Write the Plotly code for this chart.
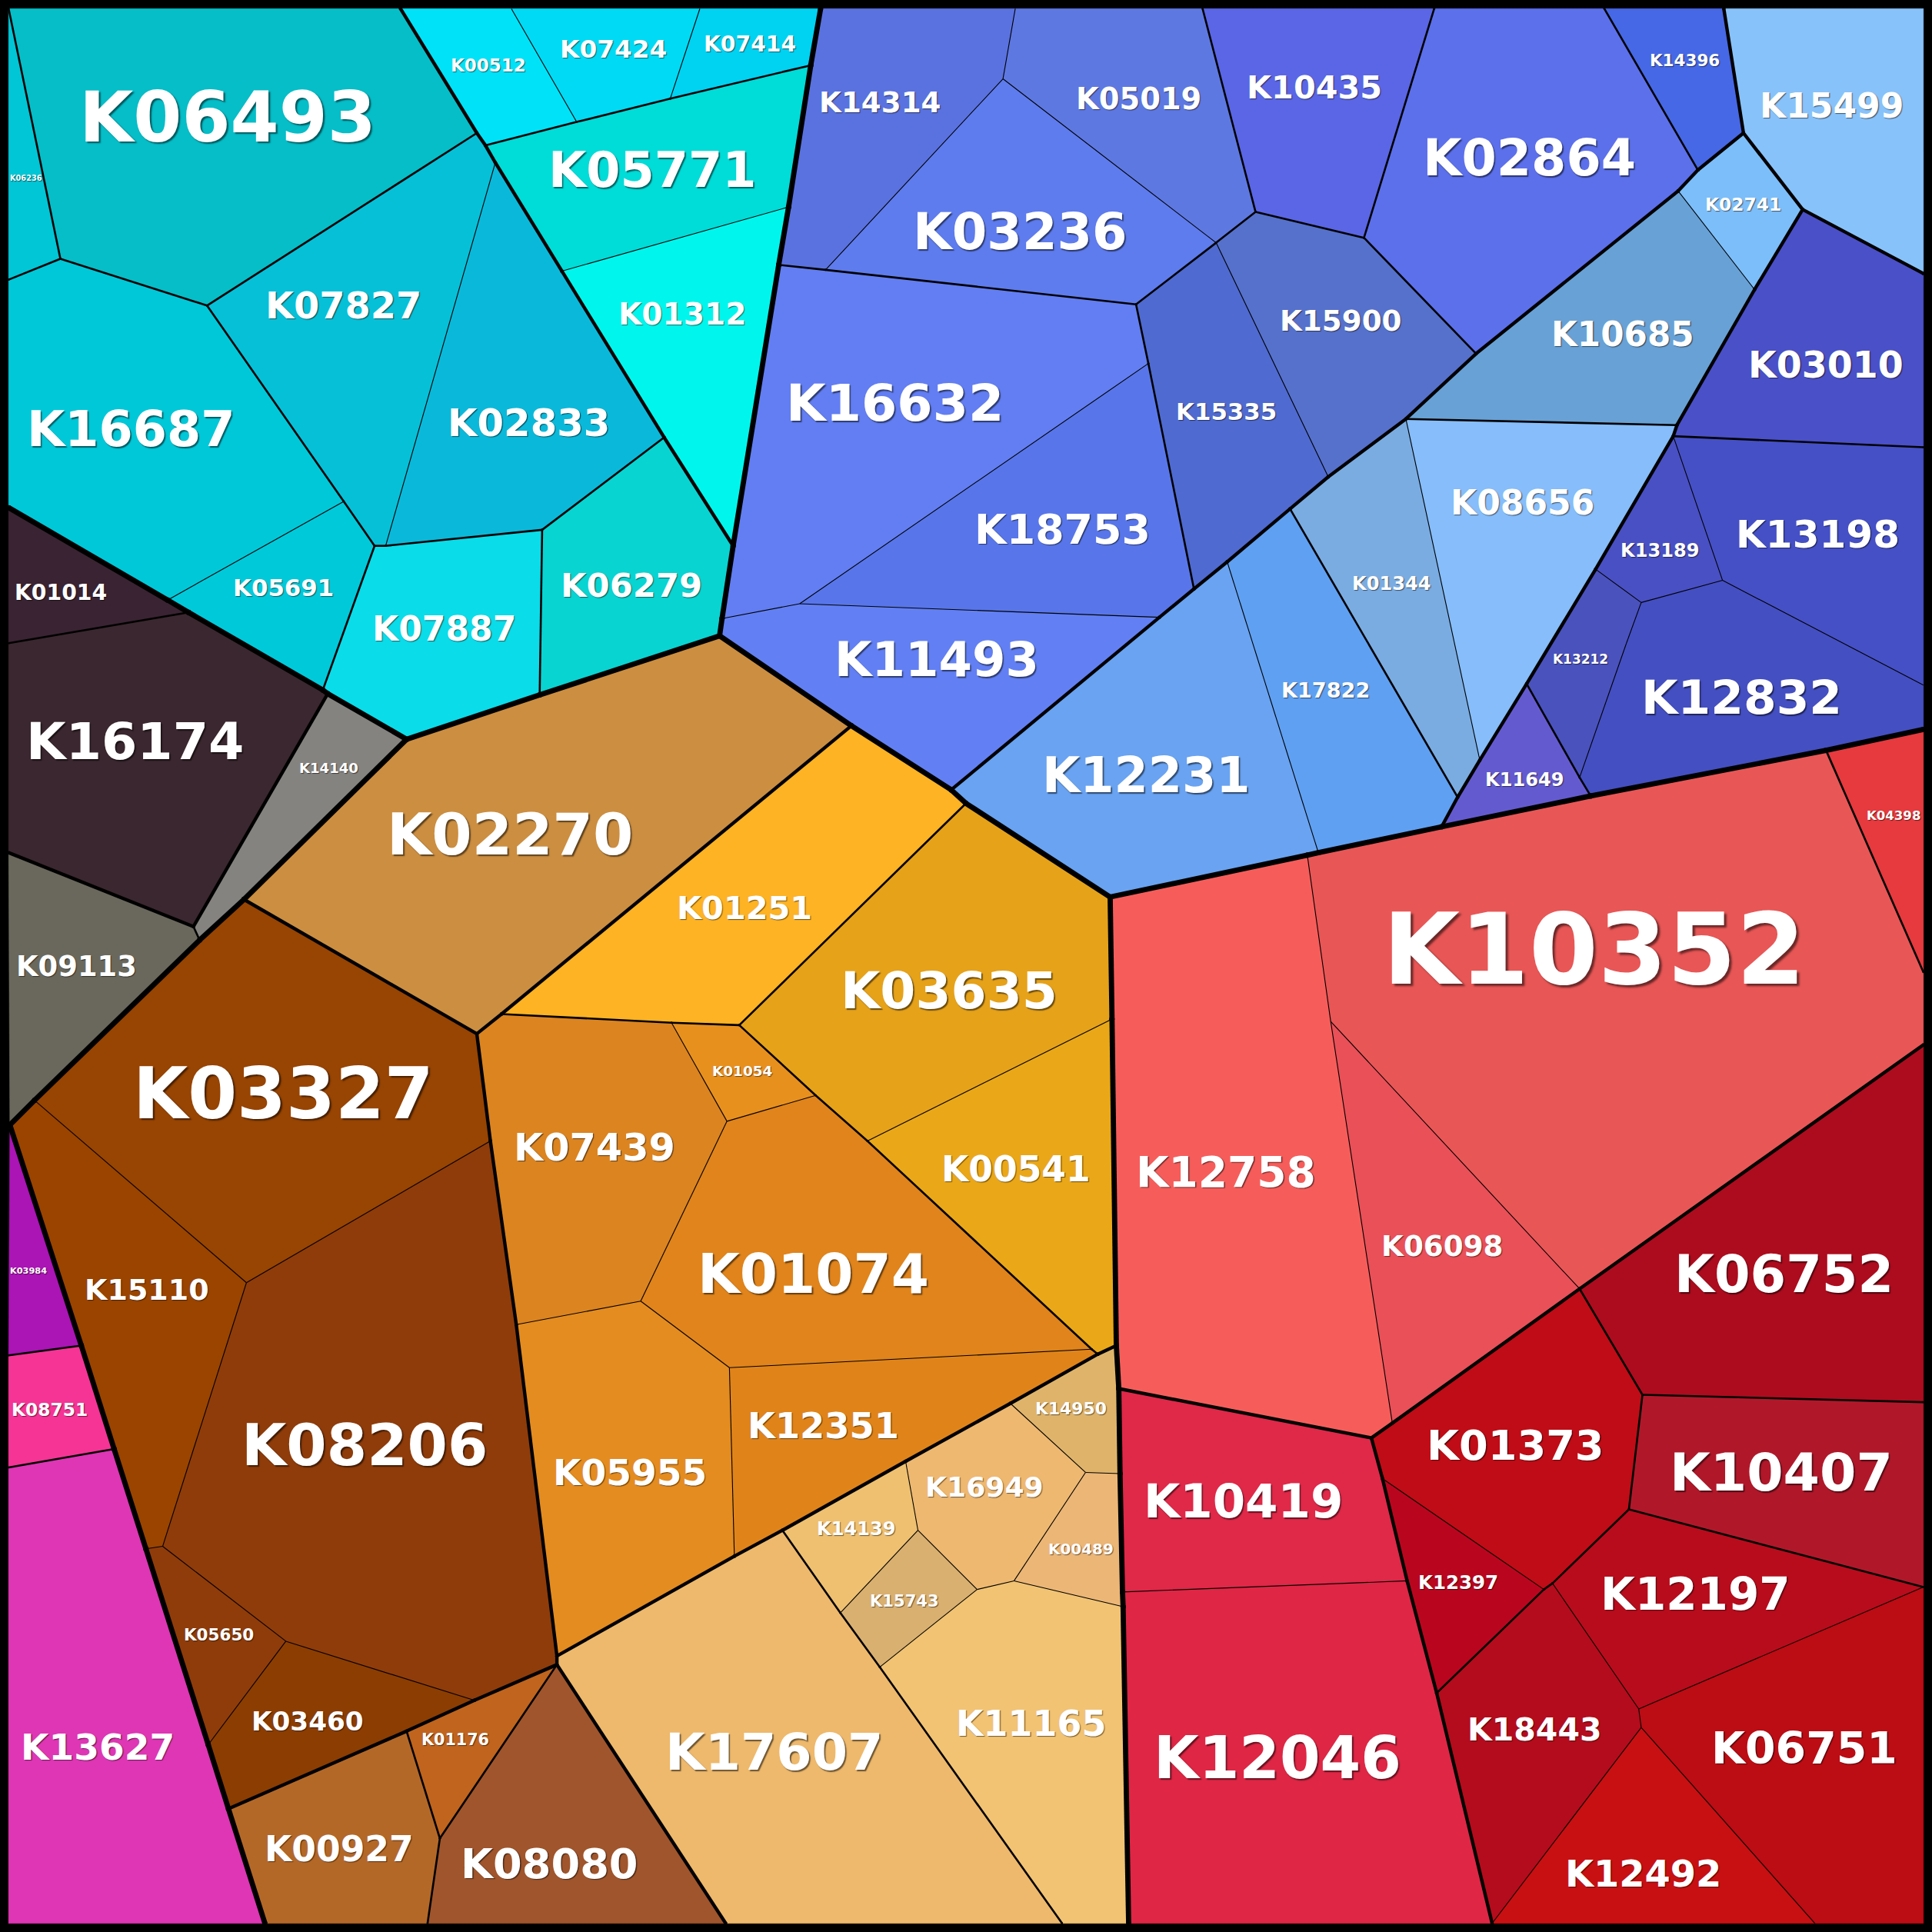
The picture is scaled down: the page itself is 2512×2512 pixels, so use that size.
import math
import plotly.graph_objects as go

# ---------------- data ----------------
ko_ids = [
    # cyan
    "K06236", "K06493", "K16687", "K07827", "K02833", "K05691", "K07887", "K06279",
    "K00512", "K07424", "K07414", "K05771", "K01312",
    # dark
    "K01014", "K16174", "K14140", "K09113",
    # magenta
    "K03984", "K08751", "K13627",
    # brown / orange
    "K02270", "K03327", "K15110", "K08206", "K05650", "K03460", "K00927", "K01176", "K08080",
    "K17607", "K01251", "K03635", "K00541", "K07439", "K01054", "K01074", "K05955", "K12351",
    "K14950", "K16949", "K00489", "K14139", "K15743", "K11165",
    # blue
    "K14314", "K05019", "K03236", "K10435", "K02864", "K14396", "K15499", "K02741", "K15900",
    "K15335", "K16632", "K18753", "K11493", "K10685", "K08656", "K01344", "K17822", "K12231",
    "K03010", "K13189", "K13198", "K13212", "K12832", "K11649",
    # red
    "K12758", "K10352", "K04398", "K06098", "K06752", "K01373", "K12397", "K10407", "K12197",
    "K18443", "K06751", "K12492", "K10419", "K12046",
]

hierarchy = [
    "A/1/a", "A/1/b", "A/1/c", "A/1/d", "A/1/d", "A/1/c", "A/1/e", "A/1/f",
    "A/2/a", "A/2/a", "A/2/a", "A/2/b", "A/2/b",
    "E/1/a", "E/1/b", "E/2/a", "E/2/b",
    "F/1/a", "F/1/b", "F/1/c",
    "C/3/a", "C/1/a", "C/1/a", "C/1/a", "C/1/a", "C/1/a", "C/2/a", "C/2/b", "C/2/c",
    "C/5/a", "C/4/a", "C/4/b", "C/4/b", "C/4/c", "C/4/c", "C/4/c", "C/4/c", "C/4/c",
    "C/5/b", "C/5/b", "C/5/b", "C/5/b", "C/5/b", "C/5/b",
    "B/1/a", "B/1/a", "B/1/a", "B/1/d", "B/1/e", "B/1/f", "B/4/a", "B/2/a", "B/1/c",
    "B/1/c", "B/1/b", "B/1/b", "B/1/b", "B/2/a", "B/2/b", "B/2/b", "B/2/c", "B/2/c",
    "B/3/a", "B/3/b", "B/3/b", "B/3/b", "B/3/b", "B/3/c",
    "D/1/a", "D/1/a", "D/1/b", "D/1/a", "D/3/b", "D/3/a", "D/3/a", "D/3/c", "D/3/d",
    "D/3/d", "D/3/d", "D/3/d", "D/2/a", "D/2/a",
]

cell_vertices = [
    # cyan
    [(7, 7), (49, 210), (7, 227)],
    [(7, 7), (325, 7), (387, 108), (168, 248), (49, 210)],
    [(7, 227), (49, 210), (168, 248), (279, 407), (136, 487), (7, 412)],
    [(168, 248), (387, 108), (394, 118), (402, 132), (313, 443), (304, 443), (279, 407)],
    [(402, 132), (456, 220), (539, 355), (440, 430), (313, 443)],
    [(136, 487), (279, 407), (304, 443), (262, 560)],
    [(304, 443), (313, 443), (440, 430), (438, 564), (330, 600), (266, 563), (262, 560)],
    [(440, 430), (539, 355), (595, 443), (584, 516), (438, 564)],
    [(325, 7), (415, 7), (468, 99), (394, 118), (387, 108)],
    [(415, 7), (568, 7), (544, 80), (468, 99)],
    [(568, 7), (666, 7), (658, 53), (544, 80)],
    [(394, 118), (468, 99), (544, 80), (658, 53), (640, 168), (456, 220), (402, 132)],
    [(456, 220), (640, 168), (632, 215), (595, 443), (539, 355)],
    # dark
    [(7, 412), (136, 487), (153, 497), (7, 522)],
    [(7, 522), (153, 497), (262, 560), (266, 563), (157, 752), (7, 692)],
    [(266, 563), (330, 600), (198, 730), (162, 763), (157, 752)],
    [(7, 692), (157, 752), (162, 763), (28, 893), (8, 913)],
    # magenta
    [(8, 913), (66, 1092), (7, 1100)],
    [(7, 1100), (66, 1092), (92.6, 1176), (7, 1191)],
    [(7, 1191), (92.6, 1176), (118.4, 1257), (169, 1416), (185.4, 1468), (215, 1561), (7, 1561)],
    # brown / orange
    [(330, 600), (438, 564), (584, 516), (691, 589), (407, 823), (387, 839), (198, 730)],
    [(198, 730), (387, 839), (398, 926), (200, 1041), (28, 893), (162, 763)],
    [(8, 913), (28, 893), (200, 1041), (132, 1255), (118.4, 1257), (92.6, 1176), (66, 1092)],
    [(200, 1041), (398, 926), (419, 1075), (452, 1344), (452, 1351), (385, 1380), (232, 1332), (132, 1255)],
    [(118.4, 1257), (132, 1255), (232, 1332), (169, 1416)],
    [(232, 1332), (385, 1380), (330, 1405), (185.4, 1468), (169, 1416)],
    [(185.4, 1468), (330, 1405), (357, 1492), (347, 1561), (215, 1561)],
    [(330, 1405), (385, 1380), (452, 1351), (357, 1492)],
    [(357, 1492), (452, 1351), (589, 1561), (347, 1561)],
    [(452, 1344), (596, 1263), (635, 1242), (682, 1309), (714, 1353), (862, 1561), (589, 1561), (452, 1351)],
    [(407, 823), (691, 589), (772, 641), (784, 652), (600, 832), (545, 830)],
    [(784, 652), (901, 728), (902.5, 827), (704, 926), (662, 889), (600, 832)],
    [(704, 926), (902.5, 827), (906, 1092), (891, 1099), (886, 1095)],
    [(387, 839), (407, 823), (545, 830), (590, 910), (520, 1056), (419, 1075), (398, 926)],
    [(545, 830), (600, 832), (662, 889), (590, 910)],
    [(590, 910), (662, 889), (704, 926), (886, 1095), (592, 1110), (520, 1056)],
    [(419, 1075), (520, 1056), (592, 1110), (596, 1263), (452, 1344)],
    [(592, 1110), (886, 1095), (891, 1099), (820, 1139), (735, 1186), (635, 1242), (596, 1263)],
    [(820, 1139), (891, 1099), (906, 1092), (908, 1127), (909, 1196), (881, 1195)],
    [(735, 1186), (820, 1139), (881, 1195), (823, 1283), (793, 1290), (745, 1242)],
    [(881, 1195), (909, 1196), (911, 1292), (911.5, 1304), (823, 1283)],
    [(635, 1242), (735, 1186), (745, 1242), (682, 1309)],
    [(682, 1309), (745, 1242), (793, 1290), (714, 1353)],
    [(714, 1353), (793, 1290), (823, 1283), (911.5, 1304), (916, 1561), (862, 1561)],
    # blue
    [(666, 7), (824, 7), (814, 64), (670, 219), (632, 215), (640, 168), (658, 53)],
    [(824, 7), (976, 7), (1019, 172), (987, 197), (814, 64)],
    [(814, 64), (987, 197), (922, 247), (670, 219)],
    [(976, 7), (1164, 7), (1107, 193), (1019, 172)],
    [(1164, 7), (1302, 7), (1378, 138), (1362, 155), (1198, 287), (1107, 193)],
    [(1302, 7), (1399, 7), (1415, 108), (1378, 138)],
    [(1399, 7), (1561, 7), (1561, 222), (1463, 170), (1415, 108)],
    [(1415, 108), (1463, 170), (1424, 235), (1362, 155), (1378, 138)],
    [(987, 197), (1019, 172), (1107, 193), (1198, 287), (1141, 340), (1078, 387), (1045, 318)],
    [(922, 247), (987, 197), (1045, 318), (1078, 387), (1047, 413), (996, 456), (969, 478), (932, 295)],
    [(632, 215), (670, 219), (922, 247), (932, 295), (649, 490), (586, 502), (595, 443)],
    [(649, 490), (932, 295), (969, 478), (941, 501)],
    [(586, 502), (649, 490), (941, 501), (772, 641), (691, 589), (584, 516)],
    [(1198, 287), (1362, 155), (1424, 235), (1361, 345), (1141, 340)],
    [(1141, 340), (1361, 345), (1358, 354), (1295, 462), (1239, 555), (1201, 617)],
    [(1047, 413), (1078, 387), (1141, 340), (1201, 617), (1183, 647)],
    [(996, 456), (1047, 413), (1183, 647), (1170, 671), (1070, 692)],
    [(772, 641), (941, 501), (969, 478), (996, 456), (1070, 692), (1061, 694), (901, 728), (784, 652)],
    [(1463, 170), (1561, 222), (1561, 363), (1358, 354), (1361, 345), (1424, 235)],
    [(1358, 354), (1398, 471), (1332, 489), (1295, 462)],
    [(1358, 354), (1561, 363), (1561, 556), (1398, 471)],
    [(1295, 462), (1332, 489), (1320, 522), (1282, 631), (1239, 555)],
    [(1332, 489), (1398, 471), (1561, 556), (1561, 592), (1482, 609), (1291, 646), (1282, 631), (1320, 522)],
    [(1239, 555), (1282, 631), (1291, 646), (1170, 671), (1183, 647), (1201, 617)],
    # red
    [(901, 728), (1061, 694), (1080, 829), (1130, 1155), (1113, 1167), (908, 1127), (906, 1092), (902.5, 827)],
    [(1061, 694), (1070, 692), (1170, 671), (1291, 646), (1482, 609), (1561, 789), (1561, 848), (1282, 1046), (1080, 829)],
    [(1482, 609), (1561, 592), (1561, 789)],
    [(1080, 829), (1282, 1046), (1130, 1155)],
    [(1282, 1046), (1561, 848), (1561, 1138), (1333, 1132)],
    [(1113, 1167), (1130, 1155), (1282, 1046), (1333, 1132), (1322, 1225), (1260, 1285), (1253, 1290), (1122, 1200)],
    [(1122, 1200), (1253, 1290), (1166, 1374), (1142, 1283)],
    [(1333, 1132), (1561, 1138), (1561, 1288), (1322, 1225)],
    [(1322, 1225), (1561, 1288), (1330, 1387), (1260, 1285)],
    [(1253, 1290), (1260, 1285), (1330, 1387), (1332, 1402), (1211, 1561), (1166, 1374)],
    [(1330, 1387), (1561, 1288), (1561, 1561), (1473, 1561), (1332, 1402)],
    [(1332, 1402), (1473, 1561), (1211, 1561)],
    [(908, 1127), (1113, 1167), (1122, 1200), (1142, 1283), (911, 1292), (909, 1196)],
    [(911, 1292), (1142, 1283), (1166, 1374), (1211, 1561), (916, 1561), (911.5, 1304)],
]

# ---------------- style ----------------
cell_colors = [
    "#00c6d6", "#05bec8", "#00c8d8", "#06c0d8", "#0ab9da", "#00c9da", "#0adce9", "#08d4d2",
    "#00e2f8", "#00daf4", "#00d2f2", "#00dcd8", "#00f6ec",
    "#3a2332", "#3b272f", "#858380", "#6a685c",
    "#ab14b5", "#f53496", "#de36b4",
    "#cc8e40", "#984402", "#9a4400", "#8f3c0a", "#8f3c0a", "#8c3d02", "#b46828", "#c0641e", "#a0552c",
    "#eeb96c", "#fdb323", "#e6a219", "#eaa818", "#dc8420", "#e8901e", "#e0841b", "#e48c20", "#e0841a",
    "#dfb46a", "#eeb870", "#ecb676", "#eec070", "#d9b070", "#f1c373",
    "#5a72e0", "#5e78e2", "#5e7cee", "#5a66e6", "#5c70ec", "#4668e6", "#88c2fa", "#7cbefa", "#5671cc",
    "#4f6ad0", "#627ef2", "#5876ea", "#6280f4", "#68a1d6", "#86bdfa", "#7aace2", "#5fa0f2", "#69a3f2",
    "#4a50c8", "#4950c4", "#4550c6", "#4a52be", "#444fc2", "#645ad0",
    "#f65d5a", "#e95656", "#e63a3e", "#e95058", "#ad0c1e", "#c00c16", "#b9061e", "#b0182a", "#b80c1c",
    "#b40c1c", "#bc0c14", "#c81012", "#e02848", "#df2645",
]

label_xy = [
    (21, 144.6), (184.5, 95), (106.5, 348), (278.5, 248), (429, 343), (230, 477), (360.5, 510), (512.5, 475),
    (396.5, 53), (497.5, 40), (608.5, 36), (529.5, 138), (554, 255),
    (49.5, 481), (109.5, 602), (267, 623), (62, 784),
    (23, 1031.6), (40, 1144), (79.5, 1418),
    (414, 677), (230, 888), (119.5, 1047), (296, 1173), (177.5, 1327), (249.5, 1397), (275.5, 1501), (369.5, 1412), (446, 1513),
    (628.5, 1422), (604, 737), (770, 804), (824.5, 949), (482.5, 931), (602.5, 869), (660, 1034), (511.5, 1195), (668.5, 1157),
    (869, 1143), (799, 1207), (877.5, 1257), (695, 1241), (734, 1299), (837, 1399),
    (714.5, 83), (924, 80), (828, 188), (1067, 71), (1241.5, 128), (1367.5, 49), (1486.5, 86), (1415, 166), (1088.5, 260),
    (995, 334), (726.5, 327), (862.5, 430), (760, 535), (1317, 271), (1235.5, 408), (1129, 474), (1076, 560), (930.5, 629),
    (1482, 296), (1347, 447), (1475.5, 434), (1282.5, 535), (1413.5, 566), (1237, 633),
    (995, 951), (1293.5, 770), (1536.8, 661.7), (1170.5, 1011), (1448, 1034), (1230, 1173), (1183.5, 1284), (1445.5, 1195), (1376, 1294),
    (1245.5, 1404), (1464.5, 1419), (1333.5, 1521), (1009, 1218), (1036.5, 1427),
]

# label text widths (display units) -> font size
label_width = [
    26, 241, 169, 127, 132, 82, 117, 115,
    61, 87, 75, 169, 104,
    75, 177, 48, 98,
    30, 62, 125,
    200, 244, 101, 200, 57, 91, 121, 55, 144,
    177, 110, 176, 121, 131, 49, 188, 125, 123,
    58, 96, 53, 64, 56, 122,
    99, 102, 174, 110, 173, 57, 117, 62, 99,
    82, 177, 143, 166, 116, 117, 64, 72, 169,
    126, 64, 133, 45, 163, 64,
    146, 343, 44, 99, 178, 144, 65, 181, 154,
    109, 151, 127, 162, 201,
]

VIEW = 1568.0
PX = 2512.0
SCALE = PX / VIEW
EM_PER_LABEL = 4.255  # DejaVu Sans Bold: K + 5 digits
LEVEL_WIDTH = [6.8, 4.4, 2.6, 1.1]  # by depth of common ancestor

# ---------------- geometry helpers ----------------
SNAP = 2.5
pts = []


def snap(p):
    for q in pts:
        if abs(q[0] - p[0]) <= SNAP and abs(q[1] - p[1]) <= SNAP:
            return q
    pts.append(p)
    return p


polys = [[snap((float(x), float(y))) for x, y in poly] for poly in cell_vertices]


def on_seg(p, a, b, tol=2.3):
    ax, ay = a
    bx, by = b
    px, py = p
    dx, dy = bx - ax, by - ay
    L2 = dx * dx + dy * dy
    if L2 == 0:
        return None
    t = ((px - ax) * dx + (py - ay) * dy) / L2
    if t <= 0 or t >= 1:
        return None
    cx, cy = ax + t * dx, ay + t * dy
    if math.hypot(px - cx, py - cy) > tol:
        return None
    if math.hypot(px - ax, py - ay) < 3 or math.hypot(px - bx, py - by) < 3:
        return None
    return t


edges = {}
for ci, poly in enumerate(polys):
    n = len(poly)
    for k in range(n):
        a = poly[k]
        b = poly[(k + 1) % n]
        if a == b:
            continue
        mids = []
        for p in pts:
            if p == a or p == b:
                continue
            t = on_seg(p, a, b)
            if t is not None:
                mids.append((t, p))
        mids.sort()
        chain = [a] + [p for _, p in mids] + [b]
        for u, v in zip(chain[:-1], chain[1:]):
            key = (min(u, v), max(u, v))
            edges.setdefault(key, [])
            if ci not in edges[key]:
                edges[key].append(ci)

LO, HI = 7.0, 1561.0


def on_frame(u, v):
    for i in (0, 1):
        for lim in (LO, HI):
            if abs(u[i] - lim) < 1.6 and abs(v[i] - lim) < 1.6:
                return True
    return False


def lca_depth(i, j):
    a = hierarchy[i].split("/")
    b = hierarchy[j].split("/")
    d = 0
    for x, y in zip(a, b):
        if x != y:
            break
        d += 1
    return min(d, 3)


classes = {w: [] for w in range(4)}
for (u, v), cells in edges.items():
    if len(cells) >= 2:
        d = min(lca_depth(cells[i], cells[j]) for i in range(len(cells)) for j in range(i + 1, len(cells)))
    else:
        if on_frame(u, v):
            continue
        d = 3
    classes[d].append((u, v))

# ---------------- figure ----------------
fig = go.Figure()

for ci, poly in enumerate(polys):
    xs = [p[0] for p in poly] + [poly[0][0]]
    ys = [p[1] for p in poly] + [poly[0][1]]
    fig.add_trace(go.Scatter(
        x=xs, y=ys, fill="toself", fillcolor=cell_colors[ci], mode="lines",
        line=dict(width=0.6, color=cell_colors[ci]), hoverinfo="text",
        text=ko_ids[ci], showlegend=False,
    ))

for d in (3, 2, 1, 0):
    xs, ys, mx, my = [], [], [], []
    for u, v in classes[d]:
        xs += [u[0], v[0], None]
        ys += [u[1], v[1], None]
        mx += [u[0], v[0]]
        my += [u[1], v[1]]
    w = LEVEL_WIDTH[d]
    fig.add_trace(go.Scatter(x=xs, y=ys, mode="lines", line=dict(color="black", width=w),
                             hoverinfo="skip", showlegend=False))
    if d < 3:
        fig.add_trace(go.Scatter(x=mx, y=my, mode="markers",
                                 marker=dict(color="black", size=w, line=dict(width=0)),
                                 hoverinfo="skip", showlegend=False))

annotations = []
for ci, name in enumerate(ko_ids):
    size = label_width[ci] * SCALE / EM_PER_LABEL
    x, y = label_xy[ci]
    annotations.append(dict(
        x=x, y=y, xref="x", yref="y", text="<b>%s</b>" % name, showarrow=False,
        xanchor="center", yanchor="middle",
        font=dict(family="DejaVu Sans", size=size, color="white",
                  shadow="%.1fpx %.1fpx %.1fpx rgba(0,0,0,0.55)" % (max(1, size / 40), max(1, size / 40), max(1, size / 50))),
    ))

fig.update_layout(
    width=2512, height=2512, margin=dict(l=0, r=0, t=0, b=0),
    paper_bgcolor="black", plot_bgcolor="black", showlegend=False,
    xaxis=dict(range=[0, VIEW], visible=False, fixedrange=True),
    yaxis=dict(range=[VIEW, 0], visible=False, fixedrange=True),
    annotations=annotations,
)

fig.write_html(
    "out.html",
    config={"displayModeBar": False},
    post_script="document.body.style.margin='0';document.body.style.padding='0';"
                "document.body.style.background='black';document.body.style.overflow='hidden';",
)
